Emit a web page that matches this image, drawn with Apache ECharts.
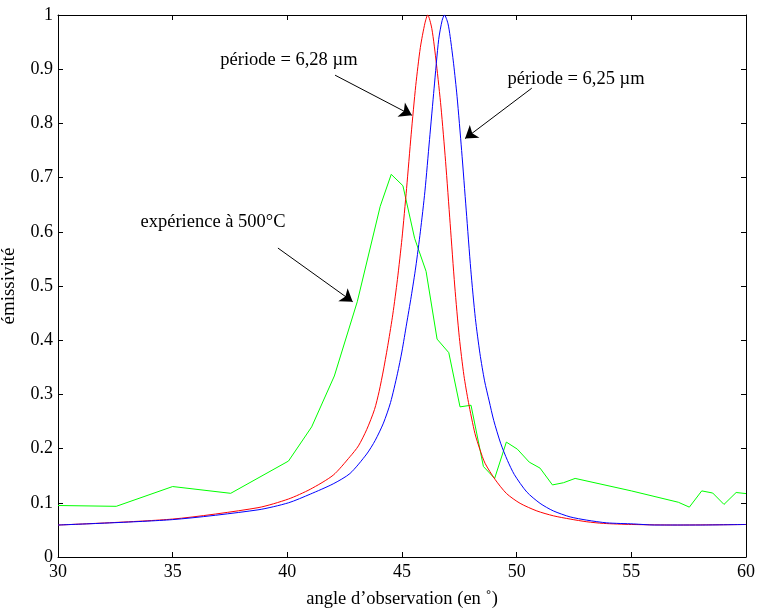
<!DOCTYPE html>
<html>
<head>
<meta charset="utf-8">
<script src="https://cdn.jsdelivr.net/npm/echarts@6/dist/echarts.min.js"></script>
<style>html,body{margin:0;padding:0;background:#fff}#c{width:757px;height:608px}</style>
</head>
<body>
<div id="c"></div>
<script>
// Experimental data (green)
const expX = [30, 32.54, 35, 37.53, 40.05, 41.06, 42.05, 43.05, 44.05, 44.53, 45.04, 45.55, 46.05, 46.53, 47.04, 47.53, 48.01, 48.55, 49.04, 49.55, 50.03, 50.55, 51.02, 51.56, 52.04, 52.55, 55, 57.05, 57.53, 58.07, 58.55, 59.04, 59.57, 60];
const expY = [0.095, 0.0935, 0.130, 0.1175, 0.177, 0.240, 0.334, 0.471, 0.647, 0.706, 0.685, 0.588, 0.527, 0.402, 0.377, 0.277, 0.280, 0.167, 0.145, 0.212, 0.199, 0.175, 0.164, 0.133, 0.137, 0.145, 0.122, 0.101, 0.092, 0.122, 0.118, 0.097, 0.119, 0.117];

// Simulation, period 6.28 µm (red)
const redX = [30, 35, 38.72, 40.05, 41.0, 42.0, 42.73, 43.1, 43.46, 43.8, 44.0, 44.2, 44.4, 44.6, 44.8, 45.0, 45.2, 45.4, 45.6, 45.8, 46.0, 46.12, 46.3, 46.5, 46.7, 46.9, 47.1, 47.3, 47.5, 47.7, 47.9, 48.18, 48.4, 48.62, 49.06, 49.56, 50.15, 50.88, 51.6, 52.33, 53.06, 53.78, 55, 57, 60];
const redY = [0.059, 0.070, 0.091, 0.107, 0.125, 0.151, 0.185, 0.205, 0.235, 0.272, 0.305, 0.347, 0.395, 0.448, 0.512, 0.588, 0.680, 0.780, 0.870, 0.940, 0.985, 1.0, 0.975, 0.910, 0.830, 0.730, 0.615, 0.500, 0.405, 0.335, 0.285, 0.228, 0.198, 0.173, 0.143, 0.117, 0.099, 0.085, 0.076, 0.070, 0.065, 0.062, 0.060, 0.059, 0.060];

// Simulation, period 6.25 µm (blue)
const blueX = [30, 35, 38.72, 40.05, 41.0, 42.0, 42.73, 43.46, 43.83, 44.19, 44.5, 44.8, 45.0, 45.2, 45.4, 45.6, 45.8, 46.0, 46.2, 46.4, 46.6, 46.75, 46.85, 47.0, 47.1, 47.25, 47.4, 47.6, 47.8, 48.0, 48.2, 48.4, 48.6, 48.8, 49.0, 49.3, 49.6, 49.9, 50.44, 51.02, 51.6, 52.33, 53.06, 53.93, 55.1, 56, 58, 60];
const blueY = [0.059, 0.069, 0.087, 0.100, 0.116, 0.135, 0.154, 0.190, 0.215, 0.247, 0.285, 0.338, 0.380, 0.430, 0.480, 0.535, 0.600, 0.675, 0.770, 0.865, 0.955, 0.990, 1.0, 0.985, 0.960, 0.910, 0.850, 0.750, 0.640, 0.530, 0.440, 0.375, 0.325, 0.288, 0.252, 0.210, 0.178, 0.152, 0.120, 0.099, 0.085, 0.074, 0.068, 0.063, 0.061, 0.059, 0.059, 0.060];

const xTicks = [30, 35, 40, 45, 50, 55, 60];
const yTicks = [0, 0.1, 0.2, 0.3, 0.4, 0.5, 0.6, 0.7, 0.8, 0.9, 1];

const annotTexts = ['période = 6,28 µm', 'période = 6,25 µm', 'expérience à 500°C'];
const annotPos = [[40.07, 0.917], [52.59, 0.882], [36.76, 0.618]];
const arrowFrom = [[42.08, 0.889], [50.66, 0.865], [39.59, 0.570]];
const arrowTo = [[45.43, 0.815], [47.75, 0.772], [42.85, 0.471]];

const zip = (xs, ys) => xs.map((x, i) => [x, ys[i]]);
const FONT = 'Liberation Serif';
const chart = echarts.init(document.getElementById('c'), null, {renderer: 'canvas'});

const axisCommon = {
  axisLine: {show: true, onZero: false, lineStyle: {color: '#000', width: 1}},
  axisTick: {show: true, inside: true, length: 5, lineStyle: {color: '#000'}},
  splitLine: {show: false}
};

chart.setOption({
  animation: false,
  backgroundColor: '#fff',
  grid: {left: 58, right: 11, top: 15, bottom: 51, containLabel: false, outerBoundsMode: 'none'},
  xAxis: [
    Object.assign({type: 'value', min: xTicks[0], max: xTicks[xTicks.length-1], interval: 5, position: 'bottom',
      name: 'angle d’observation (en ˚)', nameLocation: 'middle', nameGap: 33,
      nameTextStyle: {fontFamily: FONT, fontSize: 18.5, color: '#000'},
      axisLabel: {fontFamily: FONT, fontSize: 18, color: '#000', margin: 6}}, axisCommon),
    Object.assign({type: 'value', min: xTicks[0], max: xTicks[xTicks.length-1], interval: 5, position: 'top',
      axisLabel: {show: false}}, axisCommon)
  ],
  yAxis: [
    Object.assign({type: 'value', min: yTicks[0], max: yTicks[yTicks.length-1], interval: 0.1, position: 'left',
      name: 'émissivité', nameLocation: 'middle', nameGap: 39, nameRotate: 90,
      nameTextStyle: {fontFamily: FONT, fontSize: 19, color: '#000'},
      axisLabel: {fontFamily: FONT, fontSize: 18, color: '#000', margin: 5,
        formatter: v => String(Math.round(v * 10) / 10)}}, axisCommon),
    Object.assign({type: 'value', min: yTicks[0], max: yTicks[yTicks.length-1], interval: 0.1, position: 'right',
      axisLabel: {show: false}}, axisCommon)
  ],
  series: [
    {type: 'line', name: 'exp', data: zip(expX, expY), symbol: 'none',
      lineStyle: {color: '#00ff00', width: 1}, z: 2},
    {type: 'line', name: '6.28', data: zip(redX, redY), symbol: 'none', smooth: 0.25,
      lineStyle: {color: '#ff0000', width: 1}, z: 3},
    {type: 'line', name: '6.25', data: zip(blueX, blueY), symbol: 'none', smooth: 0.25,
      lineStyle: {color: '#0000ff', width: 1}, z: 4},
    {type: 'line', name: 'annot', data: [], z: 5,
      markLine: {silent: true, animation: false, symbol: ['none', 'arrow'], symbolSize: 12,
        lineStyle: {color: '#000', width: 1, type: 'solid'}, label: {show: false},
        itemStyle: {color: '#000'},
        data: arrowFrom.map((f, i) => [{coord: f}, {coord: arrowTo[i]}])},
      markPoint: {silent: true, animation: false, symbol: 'circle', symbolSize: 0,
        label: {show: true, position: 'inside', fontFamily: FONT, fontSize: 18.5, color: '#000',
          formatter: p => p.name},
        data: annotPos.map((c, i) => ({name: annotTexts[i], coord: c}))}
    }
  ]
});
</script>
</body>
</html>
